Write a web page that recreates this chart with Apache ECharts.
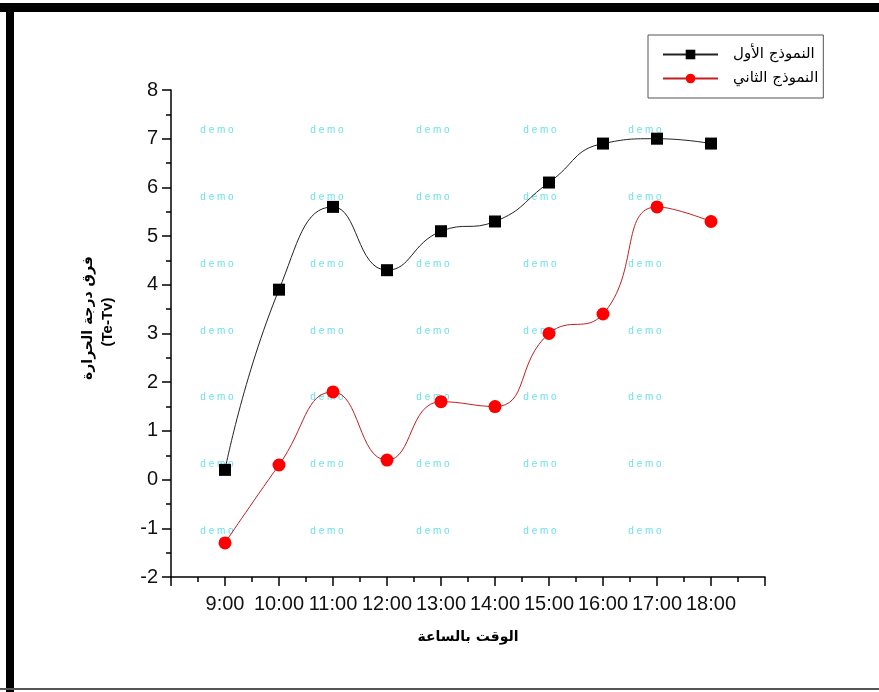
<!DOCTYPE html>
<html lang="ar">
<head>
    <meta charset="UTF-8">
    <title>فرق درجة الحرارة</title>
    <style>
        html, body { margin: 0; padding: 0; background: #fff; }
        #main { width: 879px; height: 692px; }
    </style>
</head>
<body>
    <div id="main"></div>
    <script src="https://cdn.jsdelivr.net/npm/echarts@6/dist/echarts.min.js"></script>
    <script>
        // hours of the day (x) and the two models' values
        const hours = [9, 10, 11, 12, 13, 14, 15, 16, 17, 18];
        const model1 = [0.2, 3.9, 5.6, 4.3, 5.1, 5.3, 6.1, 6.9, 7.0, 6.9];
        const model2 = [-1.3, 0.3, 1.8, 0.4, 1.6, 1.5, 3.0, 3.4, 5.6, 5.3];
        const seriesNames = ['النموذج الأول', 'النموذج الثاني'];

        // watermark grid of the original picture
        const markCols = [217, 327, 433, 540, 645];
        const markRows = [130, 197, 264, 331, 397, 464, 531];

        const font = '"Liberation Sans", "DejaVu Sans", sans-serif';
        const arabic = '"DejaVu Sans", sans-serif';

        const graphics = [
            { type: 'rect', shape: { x: 0, y: 3, width: 879, height: 9 }, style: { fill: '#000' }, z: 10 },
            { type: 'rect', shape: { x: 6, y: 3, width: 8, height: 689 }, style: { fill: '#000' }, z: 10 },
            { type: 'rect', shape: { x: 0, y: 688, width: 879, height: 2 }, style: { fill: '#555' }, z: 10 }
        ];
        markRows.forEach(y => {
            markCols.forEach(x => {
                graphics.push({
                    type: 'text', x: x, y: y, z: 1,
                    style: {
                        text: 'd e m o', fill: '#6fe0ea', font: '10px ' + font,
                        align: 'center', verticalAlign: 'middle'
                    }
                });
            });
        });
        // y axis title, two rotated lines
        graphics.push({
            type: 'text', x: 88, y: 318, rotation: Math.PI / 2, z: 5,
            style: { text: 'فرق درجة الحرارة', fill: '#000', font: 'bold 14px ' + arabic, align: 'center', verticalAlign: 'middle' }
        });
        graphics.push({
            type: 'text', x: 108, y: 322, rotation: Math.PI / 2, z: 5,
            style: { text: '(Te-Tv)', fill: '#000', font: 'bold 15px ' + font, align: 'center', verticalAlign: 'middle' }
        });

        const myChart = echarts.init(document.getElementById('main'));
        const option = {
            backgroundColor: '#fff',
            animation: false,
            graphic: graphics,
            grid: { left: 171, right: 114, top: 90, bottom: 115 },
            legend: {
                orient: 'vertical',
                left: 648, top: 35,
                itemWidth: 55, itemHeight: 12,
                itemGap: 9,
                padding: [12, 5, 12, 14],
                borderColor: '#555', borderWidth: 1,
                textStyle: { fontFamily: arabic, fontSize: 15, color: '#000', padding: [0, 0, 0, 10] },
                data: seriesNames
            },
            xAxis: {
                type: 'value',
                min: 8, max: 19, interval: 1,
                splitLine: { show: false },
                axisLine: { onZero: false, lineStyle: { color: '#000', width: 1.5 } },
                axisTick: { inside: false, length: 9, lineStyle: { color: '#000', width: 1.5 } },
                minorTick: { show: true, splitNumber: 2, length: 5, lineStyle: { color: '#000', width: 1.5 } },
                axisLabel: {
                    color: '#111', fontFamily: font, fontSize: 20, margin: 17,
                    formatter: v => (v >= 9 && v <= 18) ? v + ':00' : ''
                },
                name: 'الوقت بالساعة',
                nameLocation: 'middle', nameGap: 53,
                nameTextStyle: { color: '#000', fontFamily: arabic, fontWeight: 'bold', fontSize: 14 }
            },
            yAxis: {
                type: 'value',
                min: -2, max: 8, interval: 1,
                splitLine: { show: false },
                axisLine: { show: true, onZero: false, lineStyle: { color: '#000', width: 1.5 } },
                axisTick: { show: true, inside: false, length: 9, lineStyle: { color: '#000', width: 1.5 } },
                minorTick: { show: true, splitNumber: 2, length: 5, lineStyle: { color: '#000', width: 1.5 } },
                axisLabel: { color: '#111', fontFamily: font, fontSize: 20, margin: 13 }
            },
            series: [{
                name: seriesNames[0],
                type: 'line',
                smooth: 0.5,
                symbol: 'rect', symbolSize: 12,
                itemStyle: { color: '#000' },
                lineStyle: { color: '#222', width: 1 },
                data: hours.map((h, i) => [h, model1[i]]),
                z: 3
            }, {
                name: seriesNames[1],
                type: 'line',
                smooth: 0.5,
                symbol: 'circle', symbolSize: 13,
                itemStyle: { color: '#ff0000' },
                lineStyle: { color: '#c02020', width: 1 },
                data: hours.map((h, i) => [h, model2[i]]),
                z: 3
            }]
        };
        myChart.setOption(option);
    </script>
</body>
</html>
